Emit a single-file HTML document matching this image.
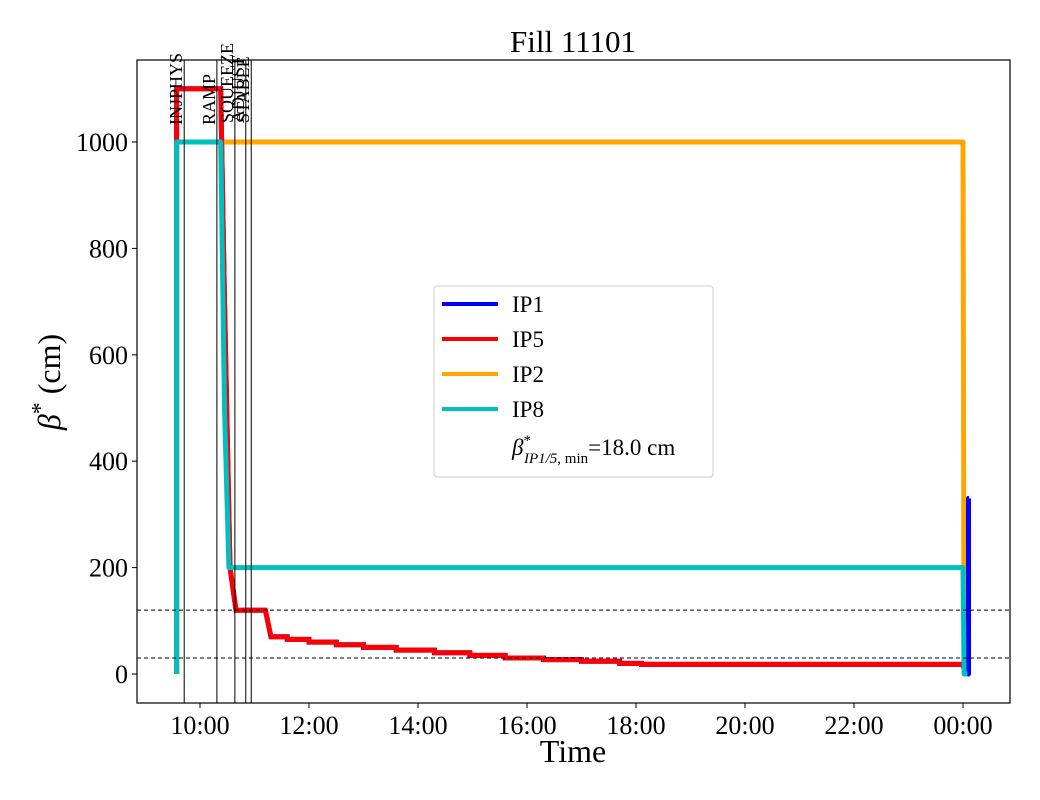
<!DOCTYPE html>
<html><head><meta charset="utf-8"><style>
body{margin:0;background:#fff;}
svg{display:block;font-family:"Liberation Serif",serif;}
</style></head><body>
<svg id="chart" width="1040" height="800"></svg>
<script>
const ip8T=[9.57,9.57,10.38,10.45,10.53,24.00,24.02,24.08];
const ip8V=[0,1000,1000,500,200,200,0,0];
const ip5T=[9.57,9.57,10.38,10.45,10.55,10.66,11.20,11.30,11.60,11.60,12.00,12.00,12.50,12.50,13.00,13.00,13.60,13.60,14.30,14.30,14.95,14.95,15.60,15.60,16.30,16.30,17.00,17.00,17.70,17.70,18.10,18.10,23.98];
const ip5V=[0,1100,1100,700,200,120,120,70,70,65,65,60,60,55,55,50,50,45,45,40,40,35,35,30,30,27,27,24,24,20,20,18,18];
const ip1T=[23.98,24.10,24.10,24.11];
const ip1V=[18,0,330,330];
const ip2T=[9.57,9.57,24.00,24.02];
const ip2V=[0,1000,1000,0];
const eventT=[9.71,10.31,10.64,10.84,10.94];
const eventL=["INJPHYS","RAMP","SQUEEZE","ADJUST","STABLE"];
const hLines=[120,30];
const yTicks=[0,200,400,600,800,1000];
const xTickH=[10,12,14,16,18,20,22,24];
const xTickL=["10:00","12:00","14:00","16:00","18:00","20:00","22:00","00:00"];

const L=137,R=1010,T=60,B=703;
const X=t=>200+54.5*(t-10);
const Y=v=>674-0.532*v;
const svg=document.getElementById('chart');
const NS='http://www.w3.org/2000/svg';
function mk(tag,attrs,parent){const e=document.createElementNS(NS,tag);for(const k in attrs)e.setAttribute(k,attrs[k]);(parent||svg).appendChild(e);return e;}
function pts(ts,vs){return ts.map((t,i)=>X(t).toFixed(1)+','+Y(vs[i]).toFixed(1)).join(' ');}

const series=[[ip2T,ip2V,'#ffa500','ip2-line'],[ip1T,ip1V,'#0000ff','ip1-line'],[ip5T,ip5V,'#ff0000','ip5-line'],[ip8T,ip8V,'#00bfbf','ip8-line']];
let bl=mk('polyline',{points:pts(ip5T,ip5V),fill:'none',stroke:'#0000ff','stroke-width':5});


series.forEach(s=>{const p=mk('polyline',{points:pts(s[0],s[1]),fill:'none',stroke:s[2],'stroke-width':5,'stroke-linejoin':'round'});

});

hLines.forEach(v=>{const l=mk('line',{x1:L,x2:R,y1:Y(v),y2:Y(v),stroke:'#000','stroke-width':1,'stroke-dasharray':'4,3'});

});

eventT.forEach((t,i)=>{const l=mk('line',{x1:X(t),x2:X(t),y1:T,y2:B,stroke:'#000','stroke-width':1});


const tx=mk('text',{x:0,y:0,transform:`translate(${X(t)-2},${i<2?125:123}) rotate(-90)`,'font-size':18});
tx.textContent=eventL[i];

});

const fr=mk('rect',{x:L,y:T,width:R-L,height:B-T,fill:'none',stroke:'#000','stroke-width':1.2});



yTicks.forEach(v=>{mk('line',{x1:L-5,x2:L,y1:Y(v),y2:Y(v),stroke:'#000'});
const t=mk('text',{x:L-9,y:Y(v)+9,'text-anchor':'end','font-size':26});t.textContent=v;

});
xTickH.forEach((h,i)=>{mk('line',{x1:X(h),x2:X(h),y1:B,y2:B+5,stroke:'#000'});
const t=mk('text',{x:X(h),y:B+31,'text-anchor':'middle','font-size':26});t.textContent=xTickL[i];

});

let t=mk('text',{x:573,y:52,'text-anchor':'middle','font-size':31});t.textContent='Fill 11101';

t=mk('text',{x:573,y:762,'text-anchor':'middle','font-size':32});t.textContent='Time';

t=mk('text',{x:0,y:0,transform:'translate(60,382) rotate(-90)','text-anchor':'middle','font-size':32});
t.innerHTML='<tspan font-style="italic">β</tspan><tspan dy="-12" font-size="24">*</tspan><tspan dy="12">  (cm)</tspan>';


const lg=mk('g',{});


mk('rect',{x:434,y:286,width:279,height:191,fill:'#fff',stroke:'#ccc',rx:3},lg);
const ln=[['IP1','#0000ff'],['IP5','#ff0000'],['IP2','#ffa500'],['IP8','#00bfbf']];
ln.forEach((e,i)=>{const y=304+i*35;
const l=mk('line',{x1:442,x2:498,y1:y,y2:y,stroke:e[1],'stroke-width':4},lg);


const tx=mk('text',{x:512,y:y+8,'font-size':23},lg);tx.textContent=e[0];

});
t=mk('text',{x:512,y:455,'font-size':23},lg);
t.innerHTML='<tspan font-style="italic">β</tspan><tspan dy="-10" font-size="15">*</tspan><tspan dx="-7" dy="18" font-size="15" font-style="italic">IP1/5</tspan><tspan font-size="15">, min</tspan><tspan dy="-8">=18.0 cm</tspan>';

</script>
</body></html>
